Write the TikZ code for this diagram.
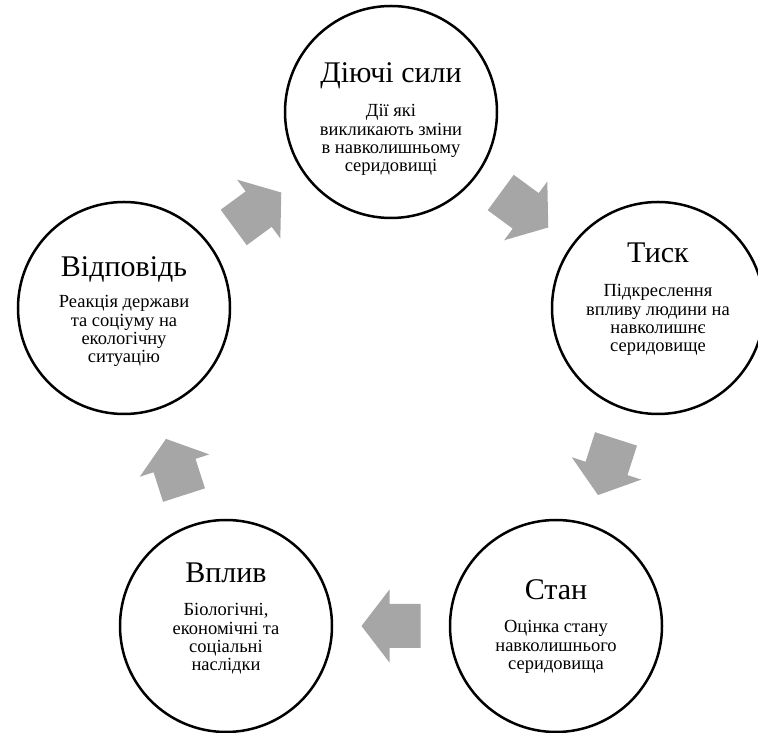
\documentclass[tikz,border=0pt]{standalone}
\usepackage{fontspec}
\setmainfont{Liberation Serif}
\usetikzlibrary{calc}
\definecolor{arrowgray}{RGB}{166,166,166}
\tikzset{
    stage/.style={draw=black, line width=2.5pt, circle, minimum size=212pt, inner sep=0pt},
    stagetitle/.style={anchor=base, inner sep=0pt, font=\fontsize{30}{34}\selectfont},
    stagetext/.style={anchor=base, inner sep=0pt, align=center, font=\fontsize{18.5}{18.3}\selectfont},
    blockarrow/.pic={\fill[arrowgray] (-29.5,-22) -- (1.5,-22) -- (1.5,-36.5) -- (29.5,0) -- (1.5,36.5) -- (1.5,22) -- (-29.5,22) -- cycle;}
}

\begin{document}
\begin{tikzpicture}[x=1pt, y=1pt]
        \clip (0,0) rectangle (758,733);
        \node[stage] (diyuchi) at (391,621) {};
        \node[stage] (tysk) at (658,425) {};
        \node[stage] (stan) at (556,107) {};
        \node[stage] (vplyv) at (226,107) {};
        \node[stage] (vidpovid) at (124,425) {};

        % base of a stage text is the baseline of its last line
        \node[stagetitle] (diyuchititle) at ($(diyuchi)+(0,29)$) {Діючі сили};
        \node[stagetext] (diyuchitext) at ($(diyuchi)+(0,-59.9)$) {Дії які\\викликають зміни\\в навколишньому\\серидовищі};
        \node[stagetitle] (tysktitle) at ($(tysk)+(0,45)$) {Тиск};
        \node[stagetext] (tysktext) at ($(tysk)+(0,-43.9)$) {Підкреслення\\впливу людини на\\навколишнє\\серидовище};
        \node[stagetitle] (stantitle) at ($(stan)+(0,26)$) {Стан};
        \node[stagetext] (stantext) at ($(stan)+(0,-43.6)$) {Оцінка стану\\навколишнього\\серидовища};
        \node[stagetitle] (vplyvtitle) at ($(vplyv)+(0,43)$) {Вплив};
        \node[stagetext] (vplyvtext) at ($(vplyv)+(0,-44.9)$) {Біологічні,\\економічні та\\соціальні\\наслідки};
        \node[stagetitle] (vidpovidtitle) at ($(vidpovid)+(0,31)$) {Відповідь};
        \node[stagetext] (vidpovidtext) at ($(vidpovid)+(0,-54.9)$) {Реакція держави\\та соціуму на\\екологічну\\ситуацію};

        % arrows between the stages
        \coordinate (ab) at ($(diyuchi)!0.5!(tysk)$);
        \coordinate (bc) at ($(tysk)!0.5!(stan)$);
        \coordinate (cd) at ($(stan)!0.5!(vplyv)$);
        \coordinate (de) at ($(vplyv)!0.5!(vidpovid)$);
        \coordinate (ea) at ($(vidpovid)!0.5!(diyuchi)$);
        \pic[rotate=-36.3] at (ab) {blockarrow};
        \pic[rotate=-107.8] at (bc) {blockarrow};
        \pic[rotate=180] at (cd) {blockarrow};
        \pic[rotate=107.8] at (de) {blockarrow};
        \pic[rotate=36.3] at (ea) {blockarrow};
    \end{tikzpicture}
\end{document}
